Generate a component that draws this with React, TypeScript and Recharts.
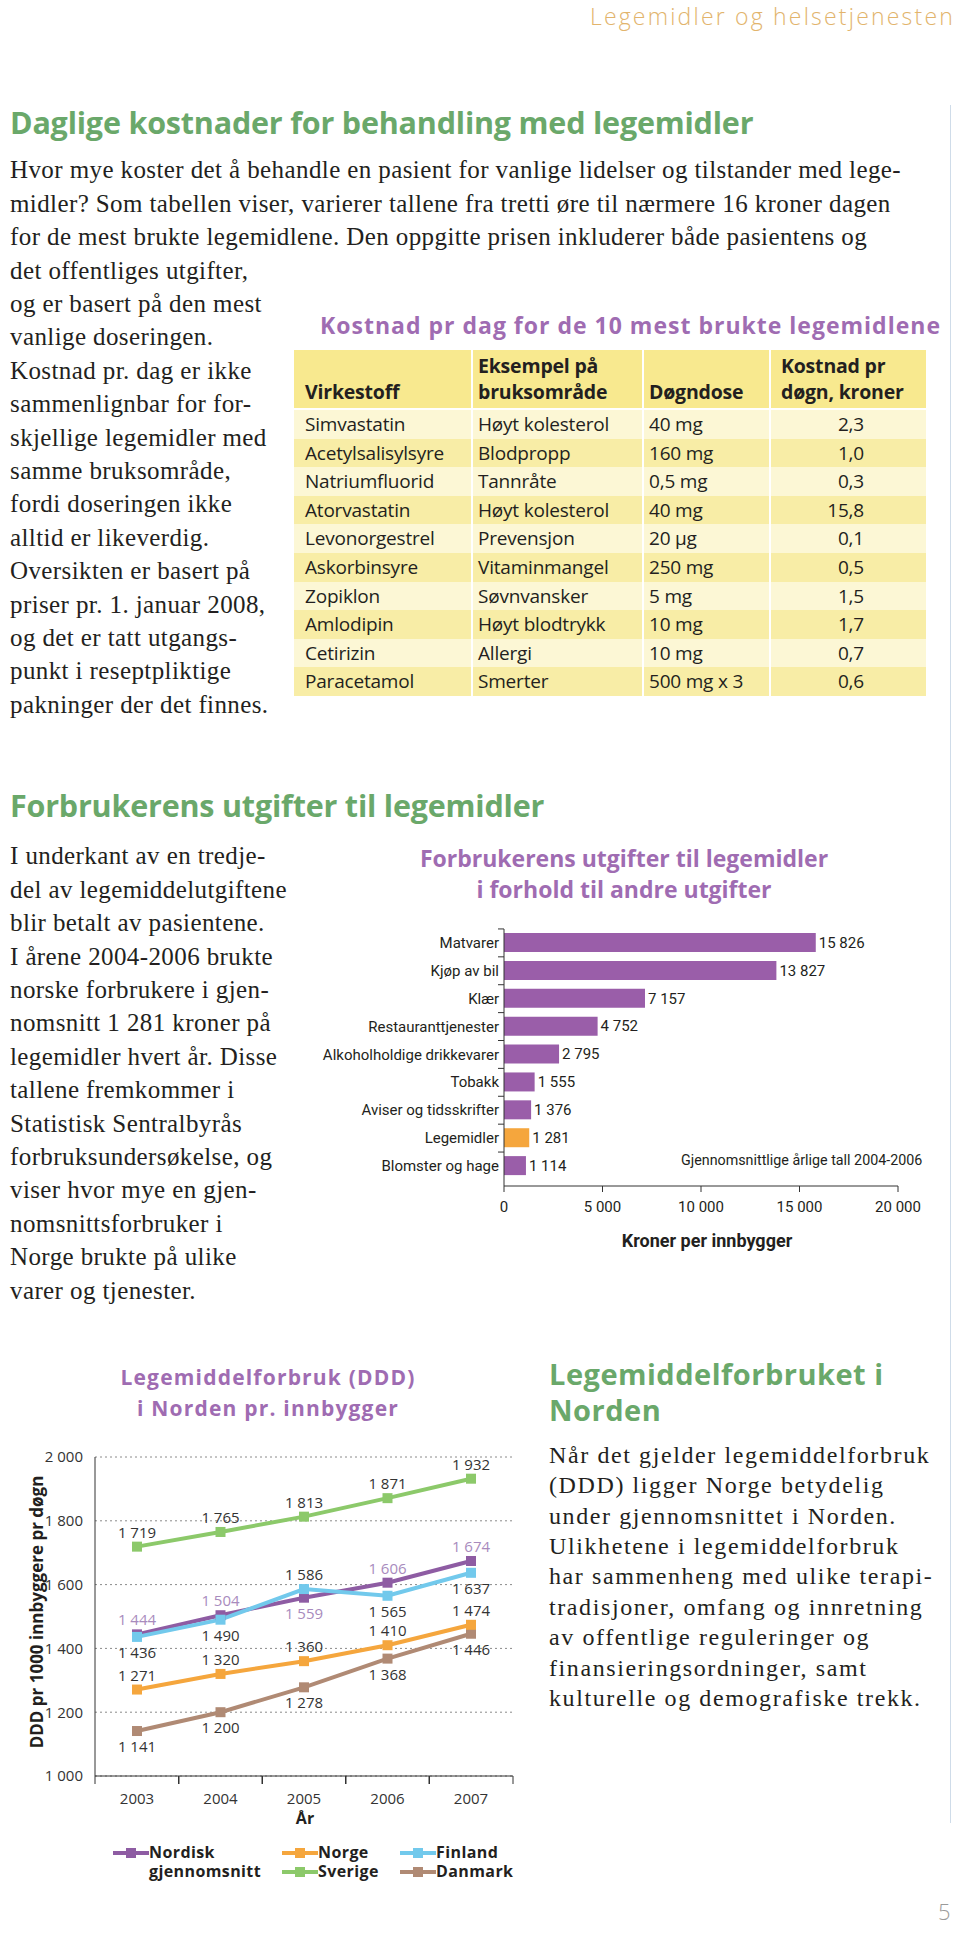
import React from 'react';
import { BarChart, Bar, XAxis, YAxis, Cell, LabelList, LineChart, Line, CartesianGrid } from 'recharts';

const serif = "'Liberation Serif', 'DejaVu Serif', serif";
const sans = "'Open Sans', 'Noto Sans', sans-serif";
const narrow = "'Liberation Sans Narrow', Roboto, sans-serif";

const GREEN = '#6aa86a';
const PURPLE = '#9f6cb2';
const BAR_PURPLE = '#9a5ea9';
const ORANGE = '#f5a63d';
const TEXT = '#231f20';

// --- tabell: kostnad pr dag ---
const drugNames = ['Simvastatin', 'Acetylsalisylsyre', 'Natriumfluorid', 'Atorvastatin', 'Levonorgestrel', 'Askorbinsyre', 'Zopiklon', 'Amlodipin', 'Cetirizin', 'Paracetamol'];
const drugUses = ['Høyt kolesterol', 'Blodpropp', 'Tannråte', 'Høyt kolesterol', 'Prevensjon', 'Vitaminmangel', 'Søvnvansker', 'Høyt blodtrykk', 'Allergi', 'Smerter'];
const dailyDoses = ['40 mg', '160 mg', '0,5 mg', '40 mg', '20 µg', '250 mg', '5 mg', '10 mg', '10 mg', '500 mg x 3'];
const dailyCost = [2.3, 1.0, 0.3, 15.8, 0.1, 0.5, 1.5, 1.7, 0.7, 0.6];

// --- forbrukerens utgifter ---
const expenseCategories = ['Matvarer', 'Kjøp av bil', 'Klær', 'Restauranttjenester', 'Alkoholholdige drikkevarer', 'Tobakk', 'Aviser og tidsskrifter', 'Legemidler', 'Blomster og hage'];
const expenseValues = [15826, 13827, 7157, 4752, 2795, 1555, 1376, 1281, 1114];
const highlightCategory = 'Legemidler';
const expenseTicks = [0, 5000, 10000, 15000, 20000];

// --- legemiddelforbruk i Norden ---
const years = ['2003', '2004', '2005', '2006', '2007'];
const nordisk = [1444, 1504, 1559, 1606, 1674];
const norge = [1271, 1320, 1360, 1410, 1474];
const finland = [1436, 1490, 1586, 1565, 1637];
const sverige = [1719, 1765, 1813, 1871, 1932];
const danmark = [1141, 1200, 1278, 1368, 1446];
const dddTicks = [1000, 1200, 1400, 1600, 1800, 2000];

const fmt = (n: number) => String(n).replace(/\B(?=(\d{3})+(?!\d))/g, ' ');
const comma = (n: number) => n.toFixed(1).replace('.', ',');

const intro1 = [
  'Hvor mye koster det å behandle en pasient for vanlige lidelser og tilstander med lege-',
  'midler? Som tabellen viser, varierer tallene fra tretti øre til nærmere 16 kroner dagen',
  'for de mest brukte legemidlene. Den oppgitte prisen inkluderer både pasientens og',
  'det offentliges utgifter,',
  'og er basert på den mest',
  'vanlige doseringen.',
  'Kostnad pr. dag er ikke',
  'sammenlignbar for for-',
  'skjellige legemidler med',
  'samme bruksområde,',
  'fordi doseringen ikke',
  'alltid er likeverdig.',
  'Oversikten er basert på',
  'priser pr. 1. januar 2008,',
  'og det er tatt utgangs-',
  'punkt i reseptpliktige',
  'pakninger der det finnes.',
];

const intro2 = [
  'I underkant av en tredje-',
  'del av legemiddelutgiftene',
  'blir betalt av pasientene.',
  'I årene 2004-2006 brukte',
  'norske forbrukere i gjen-',
  'nomsnitt 1 281 kroner på',
  'legemidler hvert år. Disse',
  'tallene fremkommer i',
  'Statistisk Sentralbyrås',
  'forbruksundersøkelse, og',
  'viser hvor mye en gjen-',
  'nomsnittsforbruker i',
  'Norge brukte på ulike',
  'varer og tjenester.',
];

const intro3 = [
  'Når det gjelder legemiddelforbruk',
  '(DDD) ligger Norge betydelig',
  'under gjennomsnittet i Norden.',
  'Ulikhetene i legemiddelforbruk',
  'har sammenheng med ulike terapi-',
  'tradisjoner, omfang og innretning',
  'av offentlige reguleringer og',
  'finansieringsordninger, samt',
  'kulturelle og demografiske trekk.',
];

function TextBlock({ lines, left, center, step, style }: any) {
  return (
    <div style={{ position: 'absolute', left, top: center - step / 2, lineHeight: `${step}px`, whiteSpace: 'pre', color: TEXT, ...style }}>
      {lines.map((l: string) => <div key={l}>{l}</div>)}
    </div>
  );
}

function CostTable() {
  const cols = [177, 171, 127, 157];
  const cell = (i: number): React.CSSProperties => ({
    width: cols[i], boxSizing: 'border-box', borderLeft: i > 0 ? '2px solid #fff' : 'none',
    paddingLeft: i === 0 ? 11 : i === 3 ? 10 : 5, whiteSpace: 'nowrap',
  });
  const head = (i: number): React.CSSProperties => ({ ...cell(i), height: '100%', display: 'flex', alignItems: 'flex-end', paddingBottom: 3 });
  return (
    <div style={{ position: 'absolute', left: 294, top: 350, width: 632, fontFamily: sans, color: TEXT }}>
      <div style={{ display: 'flex', height: 58, background: '#f8e98f', fontWeight: 700, fontSize: 19.5, lineHeight: '26px', letterSpacing: -0.2 }}>
        <div style={head(0)}>Virkestoff</div>
        <div style={head(1)}>Eksempel på<br />bruksområde</div>
        <div style={head(2)}>Døgndose</div>
        <div style={head(3)}>Kostnad pr<br />døgn, kroner</div>
      </div>
      <div style={{ height: 2 }} />
      {drugNames.map((name, r) => (
        <div key={name} style={{ display: 'flex', height: 28.6, lineHeight: '28.6px', fontSize: 19, letterSpacing: -0.2, background: r % 2 === 0 ? '#fcf7d5' : '#f8eda6' }}>
          <div style={cell(0)}>{name}</div>
          <div style={cell(1)}>{drugUses[r]}</div>
          <div style={cell(2)}>{dailyDoses[r]}</div>
          <div style={{ ...cell(3), textAlign: 'right', paddingRight: 62 }}>{comma(dailyCost[r])}</div>
        </div>
      ))}
    </div>
  );
}

const CategoryTick = (props: any) => {
  const { x, y, payload } = props;
  return (
    <g>
      <text x={x - 5} y={y} dy={5} textAnchor="end" fill={TEXT} fontSize={15} fontFamily={narrow}>{payload.value}</text>
      <line x1={x - 6} x2={x} y1={y - 14} y2={y - 14} stroke="#333" />
    </g>
  );
};

function ExpenseChart() {
  const data = expenseCategories.map((name, i) => ({ name, value: expenseValues[i] }));
  return (
    <BarChart width={640} height={310} data={data} layout="vertical" margin={{ top: 14, right: 42, bottom: 9, left: 0 }}>
      <XAxis type="number" domain={[0, 20000]} ticks={expenseTicks} interval={0} tickFormatter={fmt} stroke="#333" height={30}
        tick={{ fill: TEXT, fontSize: 15, fontFamily: narrow }} tickSize={6} tickMargin={9} />
      <YAxis type="category" dataKey="name" width={204} stroke="#333" interval={0} tickSize={0} tickMargin={0}
        tick={<CategoryTick />} padding={{ top: 0, bottom: 6 }} />
      <Bar dataKey="value" barSize={19} isAnimationActive={false}>
        {data.map((d) => <Cell key={d.name} fill={d.name === highlightCategory ? ORANGE : BAR_PURPLE} />)}
        <LabelList dataKey="value" position="right" offset={3} formatter={(v: any) => fmt(Number(v))} fill={TEXT} fontSize={15} fontFamily={narrow} />
      </Bar>
    </BarChart>
  );
}

const seriesNames = ['Nordisk gjennomsnitt', 'Norge', 'Finland', 'Sverige', 'Danmark'];
const seriesColors = ['#8e5ca3', '#f5a63d', '#72c9ec', '#8cc96a', '#b08a74'];
// which side of the point each value label sits
const nordiskSides = ['top', 'top', 'bottom', 'top', 'top'];
const norgeSides = ['top', 'top', 'top', 'top', 'top'];
const finlandSides = ['bottom', 'bottom', 'top', 'bottom', 'bottom'];
const sverigeSides = ['top', 'top', 'top', 'top', 'top'];
const danmarkSides = ['bottom', 'bottom', 'bottom', 'bottom', 'bottom'];

const makeDot = (key: string, color: string, sides: string[], labelColor: string) => (props: any) => {
  const { cx, cy, index, payload } = props;
  const ly = sides[index] === 'top' ? cy - 9 : cy + 21;
  return (
    <g key={`${key}-${index}`}>
      <rect x={cx - 5} y={cy - 5} width={10} height={10} fill={color} />
      <text x={cx} y={ly} textAnchor="middle" fill={labelColor} fontSize={15} fontFamily={sans}>{fmt(payload[key])}</text>
    </g>
  );
};

const YearTick = (props: any) => {
  const { x, y, payload } = props;
  return (
    <g>
      <text x={x} y={y} dy={28} textAnchor="middle" fill="#333" fontSize={15} fontFamily={sans}>{payload.value}</text>
      <line x1={x - 42} x2={x - 42} y1={y} y2={y + 8} stroke="#333" />
      <line x1={x + 42} x2={x + 42} y1={y} y2={y + 8} stroke="#333" />
    </g>
  );
};

function NordenChart() {
  const data = years.map((year, i) => ({ year, nordisk: nordisk[i], norge: norge[i], finland: finland[i], sverige: sverige[i], danmark: danmark[i] }));
  const series = [
    { key: 'danmark', color: seriesColors[4], sides: danmarkSides, label: '#333' },
    { key: 'norge', color: seriesColors[1], sides: norgeSides, label: '#333' },
    { key: 'nordisk', color: seriesColors[0], sides: nordiskSides, label: '#a88bbd' },
    { key: 'finland', color: seriesColors[2], sides: finlandSides, label: '#333' },
    { key: 'sverige', color: seriesColors[3], sides: sverigeSides, label: '#333' },
  ];
  return (
    <LineChart width={530} height={391} data={data} margin={{ top: 27, right: 17, bottom: 5, left: 35 }}>
      <CartesianGrid vertical={false} strokeDasharray="2 3" stroke="#8a8a8a" />
      <XAxis dataKey="year" padding={{ left: 42, right: 42 }} stroke="#333" tickLine={false} tickSize={0} tickMargin={0} height={40} tick={<YearTick />} interval={0} />
      <YAxis domain={[1000, 2000]} ticks={dddTicks} interval={0} tickFormatter={fmt} width={60} stroke="#333" tickLine={false} tickMargin={6}
        tick={{ fill: '#333', fontSize: 15, fontFamily: sans }} />
      {series.map((s) => (
        <Line key={s.key} dataKey={s.key} stroke={s.color} strokeWidth={4} isAnimationActive={false}
          dot={makeDot(s.key, s.color, s.sides, s.label)} activeDot={false} />
      ))}
    </LineChart>
  );
}

const legendItems = [
  { name: seriesNames[0], color: seriesColors[0], left: 113, row: 0 },
  { name: seriesNames[1], color: seriesColors[1], left: 282, row: 0 },
  { name: seriesNames[3], color: seriesColors[3], left: 282, row: 1 },
  { name: seriesNames[2], color: seriesColors[2], left: 400, row: 0 },
  { name: seriesNames[4], color: seriesColors[4], left: 400, row: 1 },
];

function NordenLegend() {
  return (
    <>
      {legendItems.map((it) => (
        <div key={it.name} style={{ position: 'absolute', left: it.left, top: 1843 + it.row * 19, display: 'flex', alignItems: 'flex-start' }}>
          <svg width={36} height={20} style={{ display: 'block' }}>
            <line x1={0} x2={36} y1={10} y2={10} stroke={it.color} strokeWidth={4} />
            <rect x={13} y={5} width={10} height={10} fill={it.color} />
          </svg>
          <div style={{ fontFamily: sans, fontWeight: 700, fontSize: 16, lineHeight: '19px', letterSpacing: 0.4, color: TEXT }}>
            {it.name.split(' ').map((w) => <div key={w}>{w}</div>)}
          </div>
        </div>
      ))}
    </>
  );
}

export default function App() {
  return (
    <div style={{ position: 'absolute', left: 0, top: 0, width: 960, height: 1945, background: '#fff', overflow: 'hidden' }}>
      <div style={{ position: 'absolute', right: 5, top: 0, fontFamily: sans, fontWeight: 300, fontSize: 23, letterSpacing: 2.2, color: '#e2b46c', whiteSpace: 'pre' }}>
        Legemidler og helsetjenesten
      </div>
      <div style={{ position: 'absolute', left: 950, top: 105, width: 1, height: 1718, background: '#cfdce9' }} />

      <div style={{ position: 'absolute', left: 10, top: 101, fontFamily: sans, fontWeight: 700, fontSize: 30.5, color: GREEN, letterSpacing: -0.2, whiteSpace: 'pre' }}>
        Daglige kostnader for behandling med legemidler
      </div>
      <TextBlock lines={intro1} left={10} center={170} step={33.4} style={{ fontFamily: serif, fontSize: 25, letterSpacing: 0.4 }} />

      <div style={{ position: 'absolute', left: 320, top: 309, fontFamily: sans, fontWeight: 700, fontSize: 23, color: PURPLE, letterSpacing: 1, whiteSpace: 'pre' }}>
        Kostnad pr dag for de 10 mest brukte legemidlene
      </div>
      <CostTable />

      <div style={{ position: 'absolute', left: 10, top: 784, fontFamily: sans, fontWeight: 700, fontSize: 30.5, color: GREEN, letterSpacing: -0.2, whiteSpace: 'pre' }}>
        Forbrukerens utgifter til legemidler
      </div>
      <TextBlock lines={intro2} left={10} center={856} step={33.4} style={{ fontFamily: serif, fontSize: 25, letterSpacing: 0.4 }} />

      <div style={{ position: 'absolute', left: 374, width: 500, top: 843, textAlign: 'center', fontFamily: sans, fontWeight: 700, fontSize: 23, lineHeight: '31px', color: PURPLE }}>
        <div>Forbrukerens utgifter til legemidler</div>
        <div>i forhold til andre utgifter</div>
      </div>
      <div style={{ position: 'absolute', left: 300, top: 915 }}>
        <ExpenseChart />
      </div>
      <div style={{ position: 'absolute', left: 681, top: 1152, fontFamily: narrow, fontSize: 14.3, color: TEXT, whiteSpace: 'pre' }}>
        Gjennomsnittlige årlige tall 2004-2006
      </div>
      <div style={{ position: 'absolute', left: 557, width: 300, top: 1230, textAlign: 'center', fontFamily: narrow, fontWeight: 700, fontSize: 18, color: TEXT }}>
        Kroner per innbygger
      </div>

      <div style={{ position: 'absolute', left: 18, width: 500, top: 1362, textAlign: 'center', fontFamily: sans, fontWeight: 700, fontSize: 21, lineHeight: '31px', letterSpacing: 1.2, color: PURPLE }}>
        <div>Legemiddelforbruk (DDD)</div>
        <div>i Norden pr. innbygger</div>
      </div>
      <div style={{ position: 'absolute', left: 0, top: 1430 }}>
        <NordenChart />
      </div>
      <div style={{ position: 'absolute', left: 37 - 150, top: 1612 - 11, width: 300, height: 22, textAlign: 'center', transform: 'rotate(-90deg)', fontFamily: sans, fontWeight: 700, fontSize: 17, lineHeight: '22px', color: TEXT, whiteSpace: 'pre' }}>
        DDD pr 1000 innbyggere pr døgn
      </div>
      <div style={{ position: 'absolute', left: 285, width: 40, top: 1807, textAlign: 'center', fontFamily: sans, fontWeight: 700, fontSize: 16, color: TEXT }}>
        År
      </div>
      <NordenLegend />

      <div style={{ position: 'absolute', left: 549, top: 1356, fontFamily: sans, fontWeight: 700, fontSize: 29, lineHeight: '36px', letterSpacing: 0.5, color: GREEN, whiteSpace: 'pre' }}>
        <div>Legemiddelforbruket i</div>
        <div>Norden</div>
      </div>
      <TextBlock lines={intro3} left={549} center={1455} step={30.4} style={{ fontFamily: serif, fontSize: 24, letterSpacing: 1.6 }} />

      <div style={{ position: 'absolute', left: 938, top: 1896, fontFamily: sans, fontWeight: 300, fontSize: 22, color: '#9a9a9a' }}>5</div>
    </div>
  );
}
